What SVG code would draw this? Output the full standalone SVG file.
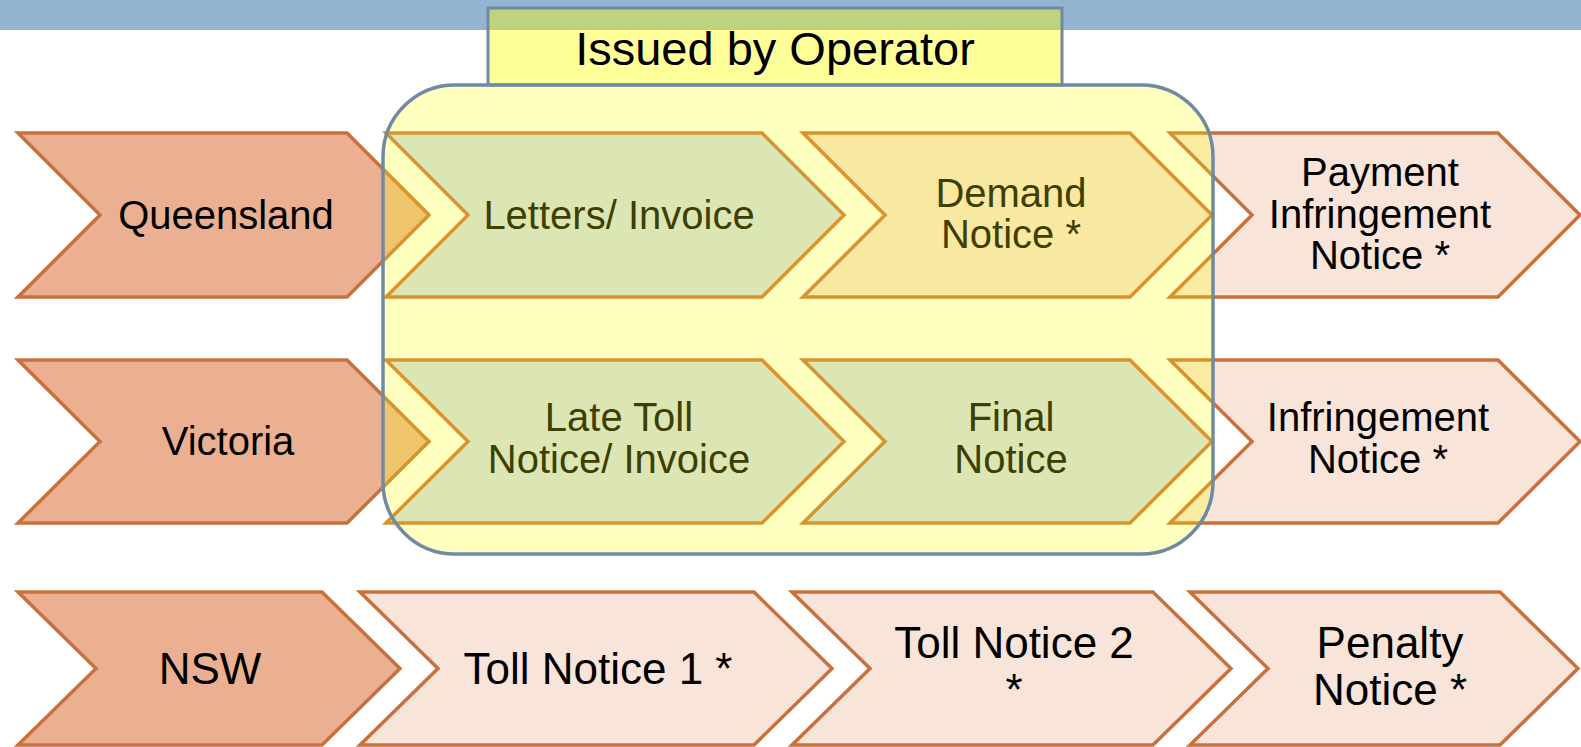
<svg xmlns="http://www.w3.org/2000/svg" width="1581" height="747" viewBox="0 0 1581 747">
<style>
text{font-family:"Liberation Sans",Arial,sans-serif;text-anchor:middle}
.lbl{font-size:40px;fill:#000}
.lbl3{font-size:44px;fill:#000}
.ilbl{font-size:40px;fill:#3F3F00}
.state{fill:#EBB092;stroke:#C9713E;stroke-width:3.5;stroke-linejoin:miter}
.pale{fill:#F8E4D8;stroke:#C9713E;stroke-width:3.5;stroke-linejoin:miter}
.green{fill:#DCE6B5;stroke:#D8942E;stroke-width:3.5;stroke-linejoin:miter}
.amber{fill:#F8E8A2;stroke:#D8942E;stroke-width:3.5;stroke-linejoin:miter}
</style>
<rect x="0" y="0" width="1581" height="30" fill="#95B4D1"/>
<g id="header">
<rect x="488" y="8" width="574" height="77" fill="#FFFF00" fill-opacity="0.4" stroke="#6E8BA3" stroke-width="3"/>
<text x="775" y="65" style="font-size:47px;fill:#000">Issued by Operator</text>
</g>
<g id="queensland">
<polygon class="state" points="18,133 347,133 429,215 347,297 18,297 100,215"/>
<text class="lbl" x="226" y="229">Queensland</text>
</g>
<g id="payment-infringement-notice">
<polygon class="pale" points="1170,133 1498,133 1580,215 1498,297 1170,297 1252,215"/>
<text class="lbl" x="1380" y="186">Payment</text>
<text class="lbl" x="1380" y="228">Infringement</text>
<text class="lbl" x="1380" y="269">Notice *</text>
</g>
<g id="victoria">
<polygon class="state" points="18,360 347,360 429,441.5 347,523 18,523 100,441.5"/>
<text class="lbl" x="228" y="455">Victoria</text>
</g>
<g id="infringement-notice">
<polygon class="pale" points="1170,360 1498,360 1580,441.5 1498,523 1170,523 1252,441.5"/>
<text class="lbl" x="1378" y="431">Infringement</text>
<text class="lbl" x="1378" y="473">Notice *</text>
</g>
<g id="operator-box-fill">
<rect x="383" y="85" width="830" height="469" rx="72" ry="72" fill="#FFFF00" fill-opacity="0.25"/>
</g>
<g id="letters-invoice">
<polygon class="green" points="386,133 762,133 844,215 762,297 386,297 468,215"/>
<text class="ilbl" x="619" y="229">Letters/ Invoice</text>
</g>
<g id="demand-notice">
<polygon class="amber" points="803,133 1130,133 1212,215 1130,297 803,297 885,215"/>
<text class="ilbl" x="1011" y="207">Demand</text>
<text class="ilbl" x="1011" y="248">Notice *</text>
</g>
<g id="late-toll-notice">
<polygon class="green" points="386,360 762,360 844,441.5 762,523 386,523 468,441.5"/>
<text class="ilbl" x="619" y="431">Late Toll</text>
<text class="ilbl" x="619" y="473">Notice/ Invoice</text>
</g>
<g id="final-notice">
<polygon class="green" points="803,360 1130,360 1212,441.5 1130,523 803,523 885,441.5"/>
<text class="ilbl" x="1011" y="431">Final</text>
<text class="ilbl" x="1011" y="473">Notice</text>
</g>
<g id="operator-box-border">
<rect x="383" y="85" width="830" height="469" rx="72" ry="72" fill="none" stroke="#6E8BA3" stroke-width="3.5"/>
</g>
<g id="nsw">
<polygon class="state" points="18,592 322,592 400,668.5 322,745 18,745 96,668.5"/>
<text class="lbl3" x="210" y="684">NSW</text>
</g>
<g id="toll-notice-1">
<polygon class="pale" points="360,592 754,592 832,668.5 754,745 360,745 438,668.5"/>
<text class="lbl3" x="598" y="684">Toll Notice 1 *</text>
</g>
<g id="toll-notice-2">
<polygon class="pale" points="792,592 1153,592 1231,668.5 1153,745 792,745 870,668.5"/>
<text class="lbl3" x="1014" y="658">Toll Notice 2</text>
<text class="lbl3" x="1014" y="705">*</text>
</g>
<g id="penalty-notice">
<polygon class="pale" points="1190,592 1500,592 1578,668.5 1500,745 1190,745 1268,668.5"/>
<text class="lbl3" x="1390" y="658">Penalty</text>
<text class="lbl3" x="1390" y="705">Notice *</text>
</g>
</svg>
